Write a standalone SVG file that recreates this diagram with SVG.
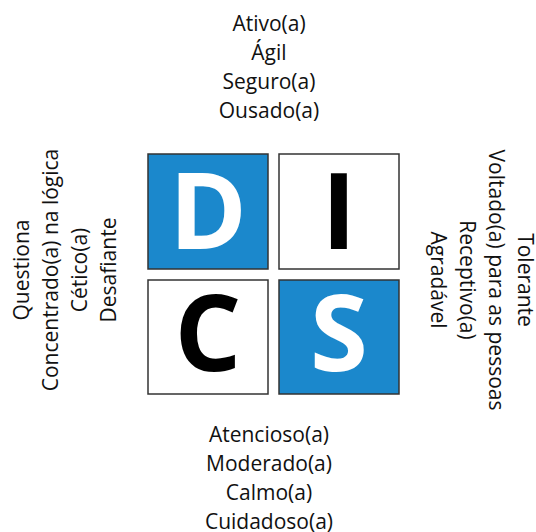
<svg xmlns="http://www.w3.org/2000/svg" width="536" height="532" viewBox="0 0 536 532">
<style>
.box{stroke:#333;stroke-width:1.5}
.blue{fill:#1b88cc}
.white{fill:#fff}
.big{font-family:"Open Sans",sans-serif;font-weight:bold;font-size:105px;text-anchor:middle}
.lbl{font-family:"Open Sans",sans-serif;font-size:21px;fill:#111;text-anchor:middle}
</style>
<rect width="536" height="532" fill="#fff"/>
<g id="D"><rect class="box blue" x="148" y="154" width="120" height="115"/><text class="big" x="208" y="249" fill="#fff">D</text></g>
<g id="I"><rect class="box white" x="279" y="154" width="120" height="115"/><text class="big" x="339" y="249" fill="#000">I</text></g>
<g id="C"><rect class="box white" x="148" y="280" width="120" height="114"/><text class="big" x="208" y="371" fill="#000">C</text></g>
<g id="S"><rect class="box blue" x="279" y="280" width="120" height="114"/><text class="big" x="339" y="371" fill="#fff">S</text></g>
<g id="top">
<text class="lbl" x="269" y="31">Ativo(a)</text>
<text class="lbl" x="269" y="60">Ágil</text>
<text class="lbl" x="269" y="89">Seguro(a)</text>
<text class="lbl" x="269" y="118">Ousado(a)</text>
</g>
<g id="bottom">
<text class="lbl" x="269" y="442">Atencioso(a)</text>
<text class="lbl" x="269" y="471">Moderado(a)</text>
<text class="lbl" x="269" y="500">Calmo(a)</text>
<text class="lbl" x="269" y="529">Cuidadoso(a)</text>
</g>
<g id="left" transform="translate(0,270) rotate(-90)">
<text class="lbl" x="0" y="29">Questiona</text>
<text class="lbl" x="0" y="58">Concentrado(a) na lógica</text>
<text class="lbl" x="0" y="87">Cético(a)</text>
<text class="lbl" x="0" y="116">Desafiante</text>
</g>
<g id="right" transform="translate(536,280) rotate(90)">
<text class="lbl" x="0" y="18">Tolerante</text>
<text class="lbl" x="0" y="47">Voltado(a) para as pessoas</text>
<text class="lbl" x="0" y="76">Receptivo(a)</text>
<text class="lbl" x="0" y="105">Agradável</text>
</g>
</svg>
